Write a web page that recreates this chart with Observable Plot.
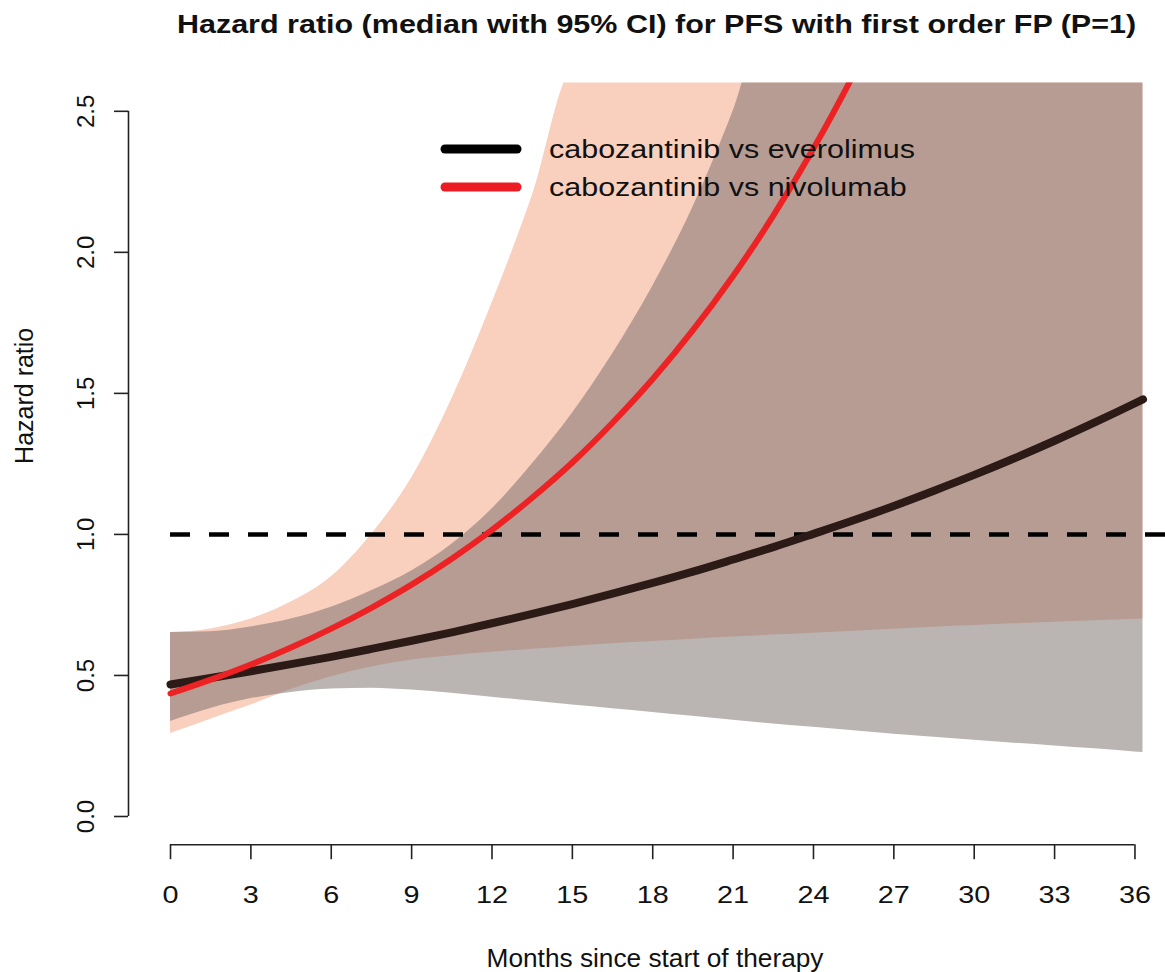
<!DOCTYPE html>
<html><head><meta charset="utf-8">
<script src="https://cdn.jsdelivr.net/npm/d3@7"></script>
<script src="https://cdn.jsdelivr.net/npm/@observablehq/plot@0.6"></script>
<style>body{margin:0;background:#fff;}</style>
</head><body><div id="chart"></div>
<script>
const title = "Hazard ratio (median with 95% CI) for PFS with first order FP (P=1)";
const xLabel = "Months since start of therapy";
const yLabel = "Hazard ratio";
const seriesNames = ["cabozantinib vs everolimus", "cabozantinib vs nivolumab"];

const months = [0, 1.5, 3, 4.5, 6, 7.5, 9, 10.5, 12, 13.5, 15, 16.5, 18, 19.5, 21, 22.5, 24, 25.5, 27, 28.5, 30, 31.5, 33, 34.5, 36, 36.3];

// cabozantinib vs everolimus: median HR and 95% CI
const everolimusHR = [0.468, 0.491, 0.515, 0.540, 0.566, 0.594, 0.623, 0.653, 0.685, 0.718, 0.753, 0.790, 0.828, 0.868, 0.911, 0.955, 1.002, 1.050, 1.101, 1.155, 1.211, 1.270, 1.332, 1.397, 1.465, 1.479];
const everolimusLo = [0.337, 0.383, 0.418, 0.440, 0.452, 0.455, 0.448, 0.437, 0.423, 0.409, 0.395, 0.382, 0.369, 0.355, 0.341, 0.328, 0.316, 0.304, 0.292, 0.281, 0.270, 0.260, 0.250, 0.240, 0.229, 0.227];
const everolimusHi = [0.652, 0.655, 0.672, 0.700, 0.742, 0.800, 0.870, 0.965, 1.090, 1.250, 1.430, 1.640, 1.880, 2.160, 2.500, 2.900, 2.700, 2.700, 2.700, 2.700, 2.700, 2.700, 2.700, 2.700, 2.700, 2.700];

// cabozantinib vs nivolumab: median HR and 95% CI
const nivolumabHR = [0.436, 0.485, 0.539, 0.599, 0.666, 0.740, 0.822, 0.914, 1.016, 1.130, 1.255, 1.396, 1.551, 1.724, 1.916, 2.130, 2.368, 2.632, 2.930];
const nivolumabLo = [0.294, 0.345, 0.395, 0.450, 0.495, 0.530, 0.555, 0.570, 0.582, 0.593, 0.603, 0.612, 0.620, 0.628, 0.636, 0.643, 0.650, 0.657, 0.664, 0.671, 0.677, 0.683, 0.689, 0.694, 0.699, 0.700];
const nivolumabHi = [0.652, 0.665, 0.700, 0.760, 0.850, 1.000, 1.200, 1.480, 1.820, 2.200, 2.650, 2.700, 2.700, 2.700, 2.700, 2.700, 2.700, 2.700, 2.700, 2.700, 2.700, 2.700, 2.700, 2.700, 2.700, 2.700];

const xTicks = [0, 3, 6, 9, 12, 15, 18, 21, 24, 27, 30, 33, 36];
const yTicks = [0, 0.5, 1, 1.5, 2, 2.5];
const refHR = 1;

const evRows = months.map((m, i) => ({m, hr: everolimusHR[i], lo: everolimusLo[i], hi: everolimusHi[i]}));
const nivBand = months.map((m, i) => ({m, lo: nivolumabLo[i], hi: nivolumabHi[i]}));
const nivLine = nivolumabHR.map((v, i) => ({m: months[i], hr: v}));

const xDomain = [-1.568, 37.14];
const yDomain = [-0.1, 2.6];
const FONT = "'Liberation Sans', Arial, Helvetica, sans-serif";

const plot = Plot.plot({
  width: 1165, height: 972,
  marginLeft: 128, marginRight: 0, marginTop: 82.6, marginBottom: 127.8,
  x: {domain: xDomain},
  y: {domain: yDomain},
  style: {fontFamily: FONT, fontSize: "24px", color: "#111", background: "#fff"},
  marks: [
    Plot.areaY(nivBand, {x: "m", y1: "lo", y2: "hi", fill: "#f9cfbe", curve: "monotone-x", clip: true}),
    Plot.areaY(evRows, {x: "m", y1: "lo", y2: "hi", fill: "rgb(118,106,103)", fillOpacity: 0.5, curve: "monotone-x", clip: true}),
    Plot.ruleY([refHR], {x1: 0, x2: xDomain[1], stroke: "#000", strokeWidth: 4.5, strokeDasharray: "20,19"}),
    Plot.line(evRows, {x: "m", y: "hr", stroke: "#2b1a16", strokeWidth: 8, curve: "monotone-x", clip: true, strokeLinecap: "round"}),
    Plot.line(nivLine, {x: "m", y: "hr", stroke: "#ed2224", strokeWidth: 6, curve: "monotone-x", clip: true, strokeLinecap: "round"}),
    Plot.ruleX([xDomain[0]], {y1: yTicks[0], y2: yTicks[yTicks.length - 1], stroke: "#222", strokeWidth: 1.6}),
    Plot.ruleY([yDomain[0]], {x1: xTicks[0], x2: xTicks[xTicks.length - 1], stroke: "#222", strokeWidth: 1.6}),
    Plot.axisX(xTicks, {anchor: "bottom", tickSize: 15, tickPadding: 26, fontSize: 24, label: null, strokeWidth: 1.6, stroke: "#222", tickFormat: d => String(d)}),
    Plot.axisY(yTicks, {anchor: "left", tickSize: 14, tickPadding: 21, tickRotate: -90, fontSize: 24, label: null, strokeWidth: 1.6, stroke: "#222", tickFormat: d3.format(".1f")}),
    Plot.text([yLabel], {text: d => d, frameAnchor: "left", rotate: -90, lineAnchor: "bottom", dx: -96, fontSize: 25, fill: "#111"}),
    Plot.text([xLabel], {text: d => d, frameAnchor: "bottom", lineAnchor: "bottom", dx: 8, dy: 122, fontSize: 25, fill: "#111"}),
    Plot.text([title], {text: d => d, frameAnchor: "top", lineAnchor: "bottom", dx: 9.5, dy: -50.6, fontSize: 25, fontWeight: "bold", fill: "#111"})
  ]
});

// horizontal stretch of non-rotated text to match the reference's aspect
function stretch(el, k) {
  const t = el.getAttribute("transform") || "";
  const x = parseFloat(el.getAttribute("x") || "0") || 0;
  el.removeAttribute("x");
  el.setAttribute("transform", `${t} translate(${x},0) scale(${k},1)`);
}
d3.select(plot).selectAll("text").each(function() {
  const t = this.getAttribute("transform") || "";
  if (t.includes("rotate")) return;
  const s = this.textContent;
  if (s === title) stretch(this, 1.22);
  else if (s === xLabel) stretch(this, 1.05);
  else stretch(this, 1.2);
});

// legend
const svg = d3.select(plot);
const lg = svg.append("g").attr("font-family", FONT).attr("font-size", 25).attr("text-anchor", "start");
const legendColors = ["#000", "#ed1c24"];
seriesNames.forEach((name, i) => {
  const yMid = 149 + i * 38;
  lg.append("line").attr("x1", 445).attr("x2", 517).attr("y1", yMid).attr("y2", yMid)
    .attr("stroke", legendColors[i]).attr("stroke-width", 9).attr("stroke-linecap", "round");
  lg.append("text").attr("transform", `translate(549,${yMid + 8.5}) scale(1.22,1)`)
    .attr("text-anchor", "start").attr("fill", "#111").text(name);
});

document.getElementById("chart").appendChild(plot);
</script>
</body></html>
